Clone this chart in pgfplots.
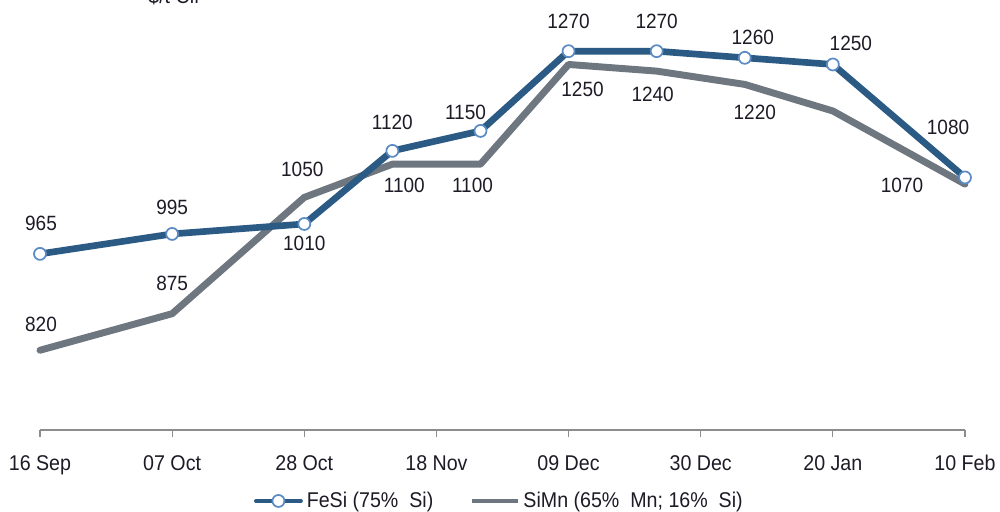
\documentclass[border=0pt]{standalone}
\usepackage{fontspec}
\setmainfont{Liberation Sans}[FakeStretch=0.92]
\usepackage{pgfplots}
\pgfplotsset{compat=1.18}
\definecolor{fesi}{HTML}{2B5B84}
\definecolor{simn}{HTML}{6E767F}
\definecolor{mk}{HTML}{5B8BC4}
\definecolor{axgray}{HTML}{8C8C8C}
\definecolor{txt}{HTML}{1E1A26}
\pgfplotsset{
  fesileg/.style={legend image code/.code={\draw[##1, line width=2.6pt, mark repeat=2, mark phase=2, mark size=4.5pt] plot coordinates {(0pt,0pt) (17pt,0pt) (34pt,0pt)};}},
  simnleg/.style={legend image code/.code={\draw[##1] (0pt,0pt) -- (34pt,0pt);}},
}
\pgfplotstableread{
d v
0 965
21 995
42 1010
56 1120
70 1150
84 1270
98 1270
112 1260
126 1250
147 1080
}\fesidata
\pgfplotstableread{
d v
0 820
21 875
42 1050
56 1100
70 1100
84 1250
98 1240
112 1220
126 1180
147 1070
}\simndata
\begin{document}
\begin{tikzpicture}[lbl/.style={font=\fontsize{15.5}{18}\selectfont, text=txt, inner sep=0pt, anchor=center}]
\useasboundingbox (-30pt,-60.75pt) rectangle (720pt,322.5pt);
\begin{axis}[
  at={(0pt,0pt)}, anchor=south west,
  scale only axis, width=693.75pt, height=322.5pt,
  xmin=0, xmax=147, ymin=700, ymax=1347,
  axis x line=bottom, axis y line=none,
  x axis line style={-, draw=axgray, line width=0.9pt},
  xtick={0,21,...,147},
  xticklabels={16 Sep, 07 Oct, 28 Oct, 18 Nov, 09 Dec, 30 Dec, 20 Jan, 10 Feb},
  major tick length=5pt, tick align=outside,
  tick style={draw=axgray, line width=0.9pt},
  ytick=\empty,
  xticklabel style={font=\fontsize{16}{19}\selectfont, text=txt, anchor=base, yshift=-25.5pt, inner sep=0pt},
  clip=false,
  legend style={at={(axis description cs:0.497,-0.165)}, anchor=center, draw=none, fill=none,
    legend columns=2, font=\fontsize{16}{19}\selectfont, text=txt,
    /tikz/every even column/.append style={column sep=26pt},
    /tikz/every odd column/.append style={column sep=1pt}},
  legend cell align=left,
]
\addplot[simn, line width=5.2pt, line join=round, line cap=round, mark=none, forget plot] table[x=d, y=v] {\simndata};
\addplot[fesi, line width=5pt, line join=round, line cap=round, mark=*, mark size=4.5pt,
  mark options={fill=white, draw=mk, line width=1.3pt}, fesileg]
  table[x=d, y=v] {\fesidata};
\addlegendentry{FeSi (75\%~~Si)}
\addlegendimage{simn, line width=2.6pt, mark=none, simnleg}
\addlegendentry{SiMn (65\%~~Mn;~16\%~~Si)}
% FeSi labels
\node[lbl] at (axis cs:0,965)    [xshift=0.75pt, yshift=22.5pt] {965};
\node[lbl] at (axis cs:21,995)   [yshift=20.25pt] {995};
\node[lbl] at (axis cs:42,1010)  [yshift=-14.25pt] {1010};
\node[lbl] at (axis cs:56,1120)  [yshift=21pt] {1120};
\node[lbl] at (axis cs:70,1150)  [xshift=-11.25pt, yshift=14.25pt] {1150};
\node[lbl] at (axis cs:84,1270)  [yshift=22.5pt] {1270};
\node[lbl] at (axis cs:98,1270)  [yshift=22.5pt] {1270};
\node[lbl] at (axis cs:112,1260) [xshift=6pt, yshift=15pt] {1260};
\node[lbl] at (axis cs:126,1250) [xshift=13.5pt, yshift=15.75pt] {1250};
\node[lbl] at (axis cs:147,1080) [xshift=-12.75pt, yshift=37.5pt] {1080};
% SiMn labels
\node[lbl] at (axis cs:0,820)    [xshift=0.75pt, yshift=19.5pt] {820};
\node[lbl] at (axis cs:21,875)   [yshift=22.5pt] {875};
\node[lbl] at (axis cs:42,1050)  [xshift=-1.5pt, yshift=21pt] {1050};
\node[lbl] at (axis cs:56,1100)  [xshift=9pt, yshift=-15.75pt] {1100};
\node[lbl] at (axis cs:70,1100)  [xshift=-6pt, yshift=-15.75pt] {1100};
\node[lbl] at (axis cs:84,1250)  [xshift=10.5pt, yshift=-18.75pt] {1250};
\node[lbl] at (axis cs:98,1240)  [xshift=-3pt, yshift=-17.25pt] {1240};
\node[lbl] at (axis cs:112,1220) [xshift=7.5pt, yshift=-21pt] {1220};
\node[lbl] at (axis cs:147,1070) [xshift=-47.25pt, yshift=-0.75pt] {1070};
\end{axis}
\node[anchor=base, font=\fontsize{16}{19}\selectfont, text=txt] at (100.5pt,319.5pt) {\$/t Cif};
\end{tikzpicture}
\end{document}
